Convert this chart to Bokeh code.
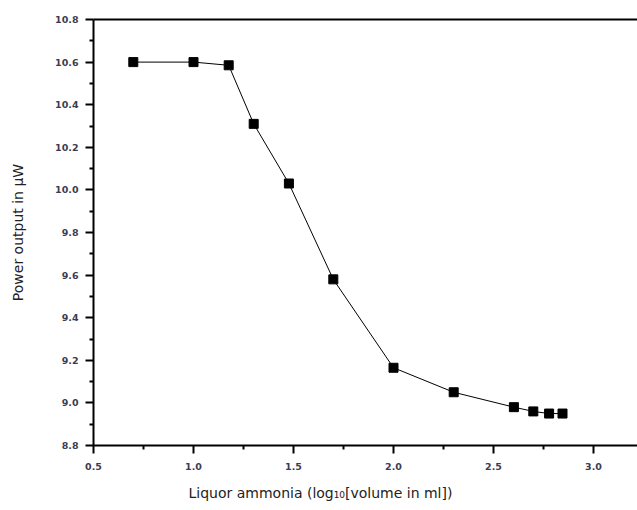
from bokeh.plotting import figure
from bokeh.models import LinearAxis, Range1d, FixedTicker, Title
from bokeh.embed import file_html
from bokeh.resources import INLINE

# Data: log10(volume in ml) vs power output in microwatts
log_volume = [0.699, 1.000, 1.176, 1.301, 1.477, 1.699, 2.000, 2.301, 2.602, 2.699, 2.778, 2.845]
power_uW = [10.60, 10.60, 10.585, 10.31, 10.03, 9.58, 9.165, 9.05, 8.98, 8.96, 8.95, 8.95]

x_major = [0.5, 1.0, 1.5, 2.0, 2.5, 3.0]
x_minor = [0.75, 1.25, 1.75, 2.25, 2.75, 3.25]
y_major = [8.8, 9.0, 9.2, 9.4, 9.6, 9.8, 10.0, 10.2, 10.4, 10.6, 10.8]
y_minor = [8.9, 9.1, 9.3, 9.5, 9.7, 9.9, 10.1, 10.3, 10.5, 10.7]

p = figure(width=637, height=510, output_backend="svg", toolbar_location=None,
           x_range=Range1d(0.5, 3.22), y_range=Range1d(8.8, 10.8),
           min_border_left=93, min_border_right=0, min_border_top=19, min_border_bottom=65)
p.outline_line_color = None
p.grid.visible = False
p.background_fill_color = "white"
p.border_fill_color = "white"

p.line(log_volume, power_uW, line_color="black", line_width=1)
p.scatter(log_volume, power_uW, marker="square", size=9, fill_color="black", line_color="black")

tick_font = "DejaVu Sans"
tick_color = "#3c3c50"

for ax in (p.xaxis[0], p.yaxis[0]):
    ax.axis_line_width = 2
    ax.axis_line_color = "black"
    ax.major_tick_line_width = 2
    ax.minor_tick_line_width = 2
    ax.major_tick_out = 8
    ax.major_tick_in = 0
    ax.minor_tick_out = 4
    ax.minor_tick_in = 0
    ax.major_label_text_font = tick_font
    ax.major_label_text_font_size = "9.5px"
    ax.major_label_text_font_style = "bold"
    ax.major_label_text_color = tick_color

p.xaxis[0].major_label_standoff = 9
p.yaxis[0].major_label_standoff = 7

p.xaxis[0].ticker = FixedTicker(ticks=x_major, minor_ticks=x_minor)
p.yaxis[0].ticker = FixedTicker(ticks=y_major, minor_ticks=y_minor)
p.xaxis[0].major_label_overrides = {v: f"{v:.1f}" for v in x_major}
p.yaxis[0].major_label_overrides = {v: f"{v:.1f}" for v in y_major}

p.yaxis[0].axis_label = "Power output in \u03bcW"
p.yaxis[0].axis_label_text_font = "DejaVu Sans"
p.yaxis[0].axis_label_text_font_size = "14px"
p.yaxis[0].axis_label_text_font_style = "normal"
p.yaxis[0].axis_label_text_color = "#222222"
p.yaxis[0].axis_label_standoff = 26

# top frame line
top = LinearAxis(ticker=FixedTicker(ticks=[]), axis_line_width=2, axis_line_color="black",
                 major_tick_line_color=None, minor_tick_line_color=None,
                 major_label_text_font_size="0px", major_label_standoff=0)
p.add_layout(top, "above")

xlabel = Title(text="Liquor ammonia (log\u2081\u2080[volume in ml])", align="left", offset=95,
               text_font="DejaVu Sans", text_font_size="14px", text_font_style="normal",
               text_color="#222222", standoff=20)
p.add_layout(xlabel, "below")

open("out.html", "w").write(file_html(p, INLINE))
